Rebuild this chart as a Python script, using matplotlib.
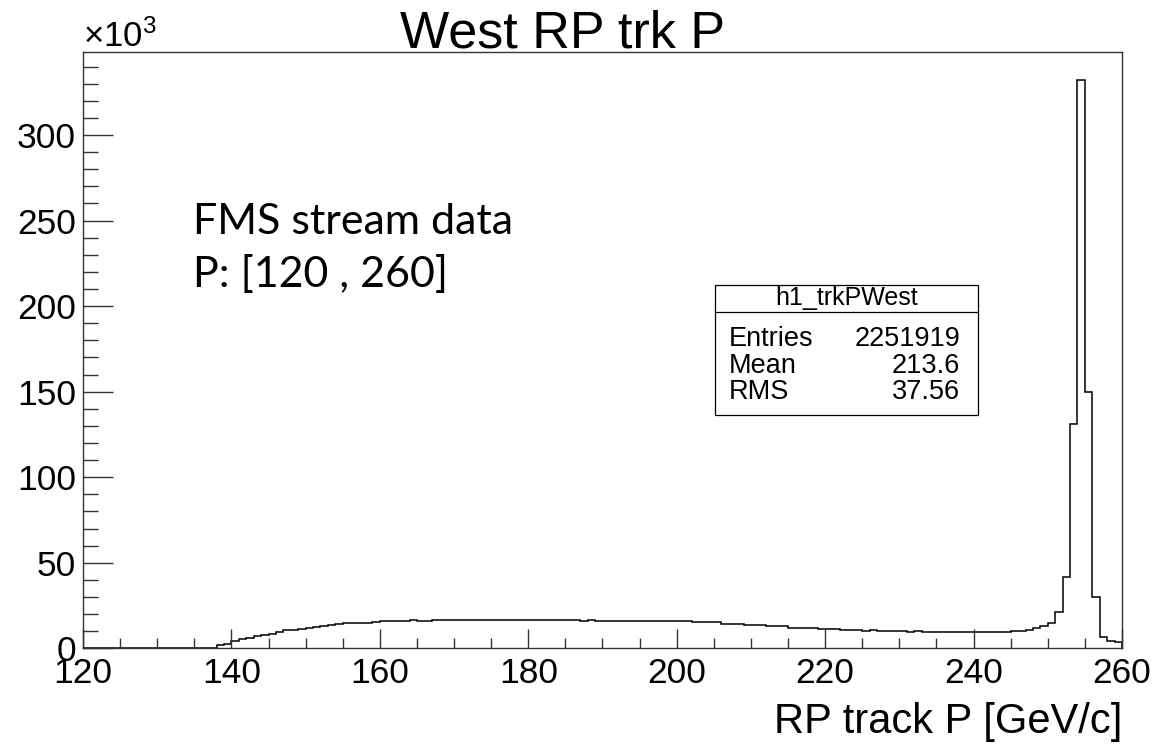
import numpy as np
import matplotlib.pyplot as plt
from matplotlib.patches import Rectangle
from matplotlib.ticker import MultipleLocator

plt.rcParams['font.family'] = ['Liberation Sans', 'DejaVu Sans']
plt.rcParams['mathtext.default'] = 'regular'

# 1 GeV/c bins from 120 to 260
bin_edges = np.arange(120, 261, 1)

# entries per bin, in units of 10^3
counts_k = [
    0, 0, 0, 0, 0, 0, 0, 0, 0, 0,                          # 120-129
    0, 0, 0, 0, 0, 0, 0, 0.4, 2.1, 2.7,                    # 130-139
    4.4, 5.3, 6.2, 7.0, 7.8, 8.5, 9.4, 10.5, 10.9, 11.5,   # 140-149
    11.9, 12.6, 13.2, 13.6, 14.2, 14.6, 14.6, 14.6, 14.6, 15.2,  # 150-159
    16.0, 16.0, 16.0, 16.0, 16.5, 16.0, 16.0, 16.5, 16.5, 16.5,  # 160-169
    16.5, 16.5, 16.5, 16.5, 16.5, 16.5, 16.5, 16.5, 16.5, 16.5,  # 170-179
    16.5, 16.5, 16.5, 16.5, 16.5, 16.5, 16.5, 15.8, 16.5, 16.0,  # 180-189
    16.0, 16.0, 16.0, 16.0, 16.0, 16.0, 16.0, 16.0, 16.0, 16.0,  # 190-199
    16.0, 16.0, 15.2, 15.2, 15.2, 15.2, 14.4, 14.4, 14.4, 13.6,  # 200-209
    13.6, 13.6, 12.9, 12.9, 12.9, 12.0, 12.0, 12.0, 12.0, 11.5,  # 210-219
    11.5, 11.5, 10.9, 10.9, 10.9, 10.3, 10.9, 10.3, 10.3, 10.3,  # 220-229
    10.3, 9.7, 10.3, 9.7, 9.7, 9.7, 9.7, 9.7, 9.7, 9.7,          # 230-239
    9.7, 9.7, 9.7, 9.7, 9.7, 10.3, 10.3, 10.9, 11.7, 12.9,       # 240-249
    15.0, 21.4, 41.5, 131.0, 332.0, 150.0, 30.0, 6.8, 4.3, 3.5,  # 250-259
]

hist_name = "h1_trkPWest"
stat_labels = ["Entries", "Mean", "RMS"]
stat_values = ["2251919", "213.6", "37.56"]

W, H = 1157, 744
fig = plt.figure(figsize=(W / 100, H / 100), dpi=100)
ax = fig.add_axes([83 / W, 1 - 648.3 / H, (1122 - 83) / W, (648.3 - 52) / H])

ax.stairs(counts_k, bin_edges, color='black', linewidth=1.1)

ax.set_xlim(120, 260)
ax.set_ylim(0, 348.5)

ax.xaxis.set_major_locator(MultipleLocator(20))
ax.xaxis.set_minor_locator(MultipleLocator(5))
ax.yaxis.set_major_locator(MultipleLocator(50))
ax.yaxis.set_minor_locator(MultipleLocator(10))

for s in ax.spines.values():
    s.set_color('#333333')
    s.set_linewidth(1.0)

ax.tick_params(axis='both', which='both', direction='in', color='#333333',
               width=1.0, labelsize=25.5, top=False, right=False)
ax.tick_params(axis='x', which='major', length=13.7, pad=6)
ax.tick_params(axis='x', which='minor', length=7.2)
ax.tick_params(axis='y', which='major', length=21.6, pad=5)
ax.tick_params(axis='y', which='minor', length=10.8)

ax.text(0, 1 + 5 / 596.3, r'$\times10^{3}$', transform=ax.transAxes,
        fontsize=25, ha='left', va='baseline')

fig.text(563 / W, 1 - 47 / H, 'West RP trk P', fontsize=37.5,
         ha='center', va='baseline')

ax.set_xlabel('RP track P [GeV/c]', fontsize=30, ha='right', va='baseline')
ax.xaxis.set_label_coords(1.0, (648.3 - 733) / 596.3)

# note on the sample
ax.text(110 / 1039, (648.3 - 234) / 596.3, 'FMS stream data',
        transform=ax.transAxes, fontsize=31, family='Lato',
        ha='left', va='baseline')
ax.text(110 / 1039, (648.3 - 287) / 596.3, 'P: [120 , 260]',
        transform=ax.transAxes, fontsize=31, family='Lato',
        ha='left', va='baseline')

# stats box
bx0, bx1, by0, by1 = 715, 978, 285, 415
fig.add_artist(Rectangle((bx0 / W, 1 - by1 / H), (bx1 - bx0) / W,
                         (by1 - by0) / H, transform=fig.transFigure,
                         facecolor='white', edgecolor='black', linewidth=0.9))
fig.add_artist(plt.Line2D([bx0 / W, bx1 / W], [1 - 312 / H, 1 - 312 / H],
                          transform=fig.transFigure, color='black',
                          linewidth=0.9))
fig.text((bx0 + bx1) / 2 / W, 1 - 305 / H, hist_name, fontsize=18,
         ha='center', va='baseline')
for i, (lab, val) in enumerate(zip(stat_labels, stat_values)):
    yb = 1 - (346 + 26.5 * i) / H
    fig.text(729 / W, yb, lab, fontsize=19.5, ha='left', va='baseline')
    fig.text(960 / W, yb, val, fontsize=19.5, ha='right', va='baseline')

fig.savefig('out.png', dpi=100)
